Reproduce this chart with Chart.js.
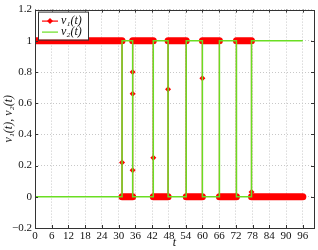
<!DOCTYPE html>
<html>
<head>
<meta charset="utf-8">
<script src="https://cdn.jsdelivr.net/npm/chart.js@4.4.0/dist/chart.umd.min.js"></script>
<style>
html, body { margin: 0; padding: 0; background: #fff; }
#wrap { width: 318px; height: 250px; }
</style>
</head>
<body>
<div id="wrap"><canvas id="myChart" width="318" height="250"></canvas></div>
<script>
// v1(t): switching signal (plateaus + transition samples)
var v1T = [0, 31.2, 31.2, 31.2, 35.0, 35.0, 35.0, 35.0, 35.0, 42.4, 42.4, 42.4, 47.7, 47.7, 47.7, 54.2, 54.2, 60.0, 60.0, 60.0, 66.1, 66.1, 72.2, 72.2, 77.6, 77.6, 77.6, 96];
var v1V = [1, 1, 0.22, 0, 0, 0.17, 0.66, 0.80, 1, 1, 0.25, 0, 0, 0.69, 1, 1, 0, 0, 0.76, 1, 1, 0, 0, 1, 1, 0.03, 0, 0];

// v2(t): square wave
var v2T = [0, 31.2, 31.2, 35.0, 35.0, 42.4, 42.4, 47.7, 47.7, 54.2, 54.2, 60.0, 60.0, 66.1, 66.1, 72.2, 72.2, 77.6, 77.6, 96];
var v2V = [0, 0, 1, 1, 0, 0, 1, 1, 0, 0, 1, 1, 0, 0, 1, 1, 0, 0, 1, 1];

var xTicks = [0, 6, 12, 18, 24, 30, 36, 42, 48, 54, 60, 66, 72, 78, 84, 90, 96];
var yTicks = [-0.2, 0, 0.2, 0.4, 0.6, 0.8, 1, 1.2];

var seriesNames = ['v\u2081(t)', 'v\u2082(t)'];
var xTitle = 't';
var yTitle = 'v\u2081(t), v\u2082(t)';

var red = '#ff0000';
var green = '#6ade22';
var serif = "'Liberation Serif', 'DejaVu Serif', serif";

function pts(ts, vs) {
	return ts.map(function(t, i){ return {x: t, y: vs[i]}; });
}

function fmtY(v) {
	var s = String(Math.round(v * 10) / 10);
	return v < 0 ? '\u2212' + s.slice(1) : s;
}

// frame, inner ticks and legend drawn like a matlab figure
var matlabBox = {
	id: 'matlabBox',
	afterDraw: function(chart) {
		var ctx = chart.ctx;
		var a = chart.chartArea;
		var xs = chart.scales.x, ys = chart.scales.y;
		ctx.save();
		ctx.strokeStyle = '#333';
		ctx.lineWidth = 1;
		ctx.beginPath();
		xTicks.forEach(function(t){
			var px = Math.round(xs.getPixelForValue(t)) + 0.5;
			ctx.moveTo(px, a.bottom); ctx.lineTo(px, a.bottom - 3);
			ctx.moveTo(px, a.top); ctx.lineTo(px, a.top + 3);
		});
		yTicks.forEach(function(v){
			var py = Math.round(ys.getPixelForValue(v)) + 0.5;
			ctx.moveTo(a.left, py); ctx.lineTo(a.left + 3, py);
			ctx.moveTo(a.right, py); ctx.lineTo(a.right - 3, py);
		});
		ctx.stroke();
		ctx.strokeRect(Math.round(a.left) + 0.5, Math.round(a.top) + 0.5, Math.round(a.right - a.left), Math.round(a.bottom - a.top));

		// legend
		var lx = a.left + 3, ly = a.top + 2, lw = 50, lh = 28;
		ctx.fillStyle = '#fff';
		ctx.fillRect(lx, ly, lw, lh);
		ctx.strokeStyle = '#333';
		ctx.strokeRect(lx + 0.5, ly + 0.5, lw, lh);
		var rows = [ly + 9, ly + 20];
		ctx.font = 'italic 12px ' + serif;
		ctx.textBaseline = 'middle';
		ctx.textAlign = 'left';
		chart.data.datasets.forEach(function(ds, i){
			var y = rows[i] + 0.5;
			ctx.strokeStyle = ds.borderColor;
			ctx.lineWidth = 1.2;
			ctx.beginPath();
			ctx.moveTo(lx + 4, y); ctx.lineTo(lx + 20, y);
			ctx.stroke();
			if (i === 0) {
				ctx.fillStyle = red;
				ctx.beginPath();
				ctx.moveTo(lx + 12, y - 3); ctx.lineTo(lx + 15, y);
				ctx.lineTo(lx + 12, y + 3); ctx.lineTo(lx + 9, y);
				ctx.closePath();
				ctx.fill();
			}
			ctx.fillStyle = '#111';
			ctx.fillText(ds.label, lx + 23, y);
		});
		ctx.restore();
	}
};

var ctx = document.getElementById('myChart').getContext('2d');
var myChart = new Chart(ctx, {
	type: 'line',
	data: {
		datasets: [{
			label: seriesNames[0],
			data: pts(v1T, v1V),
			borderColor: red,
			backgroundColor: red,
			borderWidth: 1.2,
			borderCapStyle: 'round',
			segment: {
				borderWidth: function(c){ return c.p0.parsed.y === c.p1.parsed.y ? 7 : 1.2; }
			},
			pointStyle: 'rectRot',
			pointRadius: function(c){
				var v = c.raw ? c.raw.y : 0;
				return (v > 0 && v < 1) ? 3 : 0;
			},
			pointBorderWidth: 0,
			pointBackgroundColor: red,
			clip: 0,
			order: 1,
			tension: 0
		}, {
			label: seriesNames[1],
			data: pts(v2T, v2V),
			borderColor: green,
			borderWidth: 1.5,
			pointRadius: 0,
			clip: 0,
			order: 0,
			tension: 0
		}]
	},
	options: {
		responsive: false,
		animation: false,
		layout: { padding: { top: 7, right: 4, left: 0, bottom: 0 } },
		plugins: {
			legend: { display: false },
			tooltip: { enabled: false }
		},
		scales: {
			x: {
				type: 'linear',
				min: 0,
				max: 100,
				afterBuildTicks: function(axis){ axis.ticks = xTicks.map(function(v){ return {value: v}; }); },
				afterFit: function(axis){ axis.height = 22; },
				grid: { color: '#c8c8c8', drawTicks: false },
				border: { display: false, dash: [1, 2] },
				ticks: { padding: 2, maxRotation: 0, autoSkip: false, color: '#111', font: { family: serif, size: 11 } },
				title: { display: true, text: xTitle, color: '#111', padding: { top: 0, bottom: 0 }, font: { family: serif, size: 12, style: 'italic' } }
			},
			y: {
				type: 'linear',
				min: -0.2,
				max: 1.2,
				afterBuildTicks: function(axis){ axis.ticks = yTicks.map(function(v){ return {value: v}; }); },
				afterFit: function(axis){ axis.width = 35; },
				grid: { color: '#c8c8c8', drawTicks: false },
				border: { display: false, dash: [1, 2] },
				ticks: { padding: 3, color: '#111', font: { family: serif, size: 11 }, callback: function(v){ return fmtY(v); } },
				title: { display: true, text: yTitle, color: '#111', padding: { top: 2, bottom: 0 }, font: { family: serif, size: 12, style: 'italic' } }
			}
		}
	},
	plugins: [matlabBox]
});
</script>
</body>
</html>
